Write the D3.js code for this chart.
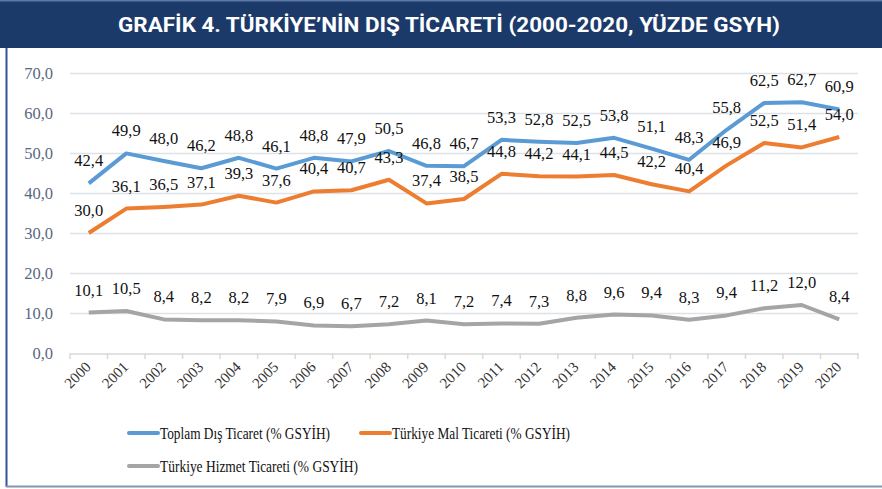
<!DOCTYPE html>
<html><head><meta charset="utf-8">
<script src="https://cdn.jsdelivr.net/npm/d3@7"></script>
<style>html,body{margin:0;padding:0;background:#fff;}svg{display:block;}
.serif{font-family:"Liberation Serif","DejaVu Serif","Noto Serif","Times New Roman",Times,serif;}
</style>
</head><body>
<script>
const years = ["2000","2001","2002","2003","2004","2005","2006","2007","2008","2009","2010","2011","2012","2013","2014","2015","2016","2017","2018","2019","2020"];
const toplam = [42.4,49.9,48.0,46.2,48.8,46.1,48.8,47.9,50.5,46.8,46.7,53.3,52.8,52.5,53.8,51.1,48.3,55.8,62.5,62.7,60.9];
const mal = [30.0,36.1,36.5,37.1,39.3,37.6,40.4,40.7,43.3,37.4,38.5,44.8,44.2,44.1,44.5,42.2,40.4,46.9,52.5,51.4,54.0];
const hizmet = [10.1,10.5,8.4,8.2,8.2,7.9,6.9,6.7,7.2,8.1,7.2,7.4,7.3,8.8,9.6,9.4,8.3,9.4,11.2,12.0,8.4];
const yTicks = [0,10,20,30,40,50,60,70];
const seriesNames = ["Toplam Dış Ticaret (% GSYİH)","Türkiye Mal Ticareti (% GSYİH)","Türkiye Hizmet Ticareti (% GSYİH)"];
const colors = ["#5b9bd5","#ed7d31","#a5a5a5"];
const title = "GRAFİK 4. TÜRKİYE’NİN DIŞ TİCARETİ (2000-2020, YÜZDE GSYH)";

const W = 882, H = 489;
const svg = d3.select("body").append("svg").attr("width", W).attr("height", H);
const fmt = v => d3.format(".1f")(v).replace(".", ",");

// title bar
svg.append("rect").attr("x",0).attr("y",0).attr("width",W).attr("height",48).attr("fill","#1b3a6a");
svg.append("rect").attr("x",0).attr("y",0).attr("width",W).attr("height",1.5).attr("fill","#5a78a3");
svg.append("text").attr("x",449).attr("y",32).attr("text-anchor","middle")
  .attr("fill","#fff").style("font-family","Roboto, 'Liberation Sans', sans-serif")
  .attr("font-weight","bold").attr("font-size",21)
  .attr("textLength",662).attr("lengthAdjust","spacingAndGlyphs").text(title);
// frame
svg.append("line").attr("x1",6.5).attr("x2",6.5).attr("y1",48).attr("y2",487).attr("stroke","#2f5597").attr("stroke-width",2);
svg.append("line").attr("x1",6).attr("x2",W).attr("y1",486.5).attr("y2",486.5).attr("stroke","#8496b0").attr("stroke-width",2);

const x = d3.scaleBand().domain(years).range([70,858]);
const y = d3.scaleLinear().domain([0,70]).range([353,73]);

// grid
svg.append("g").selectAll("line").data(yTicks.filter(d=>d>0)).join("line")
  .attr("x1",70).attr("x2",858).attr("y1",d=>y(d)+0.5).attr("y2",d=>y(d)+0.5)
  .attr("stroke","#dde1e8").attr("stroke-width",1.5);

// y axis
const ya = svg.append("g").attr("transform","translate(70,0)")
  .call(d3.axisLeft(y).tickValues(yTicks).tickFormat(fmt).tickSize(0).tickPadding(17));
ya.attr("font-family",null);
ya.select(".domain").remove();
ya.selectAll("text").attr("class","serif").attr("font-size",16.5).attr("fill","#5a6781");

// x axis
const xa = svg.append("g").attr("transform","translate(0,353.5)")
  .call(d3.axisBottom(x).tickSize(0).tickFormat(""));
xa.select(".domain").attr("stroke","#d9d9d9").attr("stroke-width",1.5);
svg.append("g").selectAll("line").data(years.concat(["end"])).join("line")
  .attr("x1",(d,i)=>70+i*x.bandwidth()).attr("x2",(d,i)=>70+i*x.bandwidth())
  .attr("y1",353).attr("y2",359).attr("stroke","#d9d9d9").attr("stroke-width",1.5);
svg.append("g").selectAll("text").data(years).join("text")
  .attr("transform",d=>`translate(${x(d)+x.bandwidth()/2+3},368) rotate(-45)`)
  .attr("text-anchor","end").attr("class","serif").attr("font-size",15).attr("fill","#333").text(d=>d);

// lines
const allSeries = [toplam, mal, hizmet];
const line = d3.line().x((d,i)=>x(years[i])+x.bandwidth()/2).y(d=>y(d));
allSeries.forEach((s,k)=>{
  svg.append("path").datum(s).attr("d",line).attr("fill","none")
    .attr("stroke",colors[k]).attr("stroke-width",4).attr("stroke-linejoin","round");
});
allSeries.forEach((s,k)=>{
  svg.append("g").selectAll("text").data(s).join("text")
    .attr("x",(d,i)=>x(years[i])+x.bandwidth()/2).attr("y",d=>y(d)-17)
    .attr("text-anchor","middle").attr("class","serif").attr("font-size",16.5).attr("fill","#111")
    .text(fmt);
});

// legend
const leg = [{x:129,y:433,tx:160,ty:439,w:170},{x:361,y:433,tx:392,ty:439,w:178},{x:129,y:466,tx:160,ty:472,w:198}];
leg.forEach((p,k)=>{
  svg.append("line").attr("x1",p.x).attr("x2",p.x+29).attr("y1",p.y).attr("y2",p.y)
    .attr("stroke",colors[k]).attr("stroke-width",4).attr("stroke-linecap","round");
  svg.append("text").attr("x",p.tx).attr("y",p.ty).attr("class","serif").attr("font-size",16.5)
    .attr("textLength",p.w).attr("lengthAdjust","spacingAndGlyphs")
    .attr("fill","#111").text(seriesNames[k]);
});
</script>
</body></html>
